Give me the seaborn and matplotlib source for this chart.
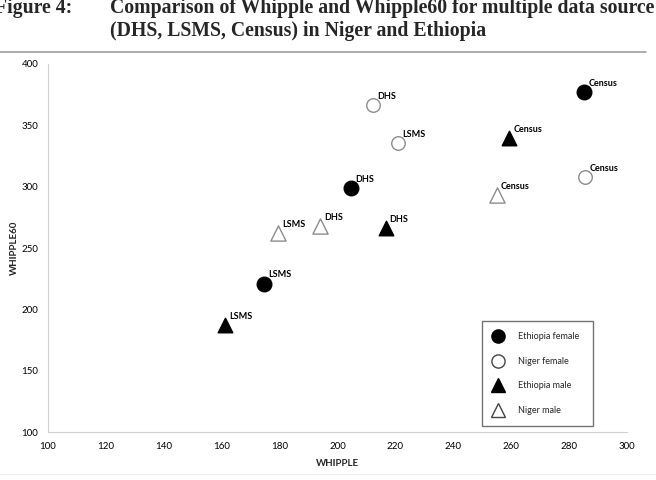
import matplotlib
matplotlib.use("Agg")
import matplotlib.pyplot as plt
from matplotlib.lines import Line2D
import pandas as pd
import seaborn as sns

# values
sources = ["DHS", "LSMS", "Census"]
eth_female_whipple = [204.7, 174.6, 285.2]
eth_female_whipple60 = [298.7, 221.0, 377.0]
niger_female_whipple = [212.2, 221.0, 285.5]
niger_female_whipple60 = [366.6, 335.4, 307.7]
eth_male_whipple = [216.6, 161.0, 259.3]
eth_male_whipple60 = [266.0, 187.0, 339.5]
niger_male_whipple = [194.0, 179.4, 255.0]
niger_male_whipple60 = [268.0, 262.0, 293.0]
groups = ["Ethiopia female", "Niger female", "Ethiopia male", "Niger male"]

rows = []
for g, xs, ys in zip(groups,
                     [eth_female_whipple, niger_female_whipple, eth_male_whipple, niger_male_whipple],
                     [eth_female_whipple60, niger_female_whipple60, eth_male_whipple60, niger_male_whipple60]):
    for s, x, y in zip(sources, xs, ys):
        rows.append({"group": g, "source": s, "WHIPPLE": x, "WHIPPLE60": y})
df = pd.DataFrame(rows)

sns.set_style("white")
plt.rcParams["font.family"] = ["Lato", "DejaVu Sans"]

# marker, face colour, edge colour, size for each group
styles = {
    "Ethiopia female": ("o", "black", "black", 110),
    "Niger female": ("o", "white", "#8c8c8c", 95),
    "Ethiopia male": ("^", "black", "black", 110),
    "Niger male": ("^", "white", "#8c8c8c", 120),
}

fig = plt.figure(figsize=(6.56, 4.8), dpi=100)
ax = fig.add_axes([48 / 656, 1 - 432 / 480, 579 / 656, 368 / 480])

for g in groups:
    m, fc, ec, s = styles[g]
    sub = df[df["group"] == g]
    sns.scatterplot(data=sub, x="WHIPPLE", y="WHIPPLE60", marker=m, s=s,
                    color=fc, edgecolor=ec, linewidth=1.0, ax=ax, legend=False, zorder=3)
    for _, r in sub.iterrows():
        ax.annotate(r["source"], (r["WHIPPLE"], r["WHIPPLE60"]), xytext=(3, 3),
                    textcoords="offset points", fontsize=6.5, fontweight="bold",
                    ha="left", va="bottom", color="black", zorder=4)

ax.set_xlim(100, 300)
ax.set_ylim(100, 400)
ax.set_xticks(range(100, 301, 20))
ax.set_yticks(range(100, 401, 50))
ax.set_xlabel("WHIPPLE", fontsize=7, fontweight="bold", labelpad=6)
ax.set_ylabel("WHIPPLE60", fontsize=7, fontweight="bold", labelpad=2)
ax.tick_params(axis="both", labelsize=7, length=3, width=0.6, color="#c8c8c8",
               direction="out", pad=4, labelcolor="black")
for side in ["top", "right"]:
    ax.spines[side].set_visible(False)
for side in ["left", "bottom"]:
    ax.spines[side].set_color("#d0d0d0")
    ax.spines[side].set_linewidth(0.8)

handles = []
for g in groups:
    m, fc, ec, s = styles[g]
    handles.append(Line2D([], [], linestyle="none", marker=m, markersize=9.5,
                          markerfacecolor=fc, markeredgecolor=ec if fc == "black" else "#444444",
                          markeredgewidth=1.0))
leg = ax.legend(handles, groups, loc="lower left", bbox_to_anchor=(0.749, 0.016, 0.192, 0.284),
                mode="expand", fontsize=6.5, frameon=True, fancybox=False, labelspacing=1.72,
                handletextpad=1.6, borderpad=1.25, handlelength=1.2, borderaxespad=0)
leg.get_frame().set_edgecolor("#505050")
leg.get_frame().set_linewidth(1.0)

# figure title
title_kw = dict(fontsize=14.2, fontweight="bold", family="Liberation Serif", ha="left", va="baseline")
fig.text(-5 / 656, 1 - 13 / 480, "Figure 4:", **title_kw)
fig.text(110 / 656, 1 - 13 / 480, "Comparison of Whipple and Whipple60 for multiple data source", **title_kw)
fig.text(110 / 656, 1 - 36 / 480, "(DHS, LSMS, Census) in Niger and Ethiopia", **title_kw)
fig.add_artist(Line2D([0, 646 / 656], [1 - 51.5 / 480, 1 - 51.5 / 480], color="#a0a0a0", linewidth=1.2))
fig.add_artist(Line2D([0, 1], [1 - 474 / 480, 1 - 474 / 480], color="#eeeeee", linewidth=0.8))

fig.savefig("out.png", dpi=100)
